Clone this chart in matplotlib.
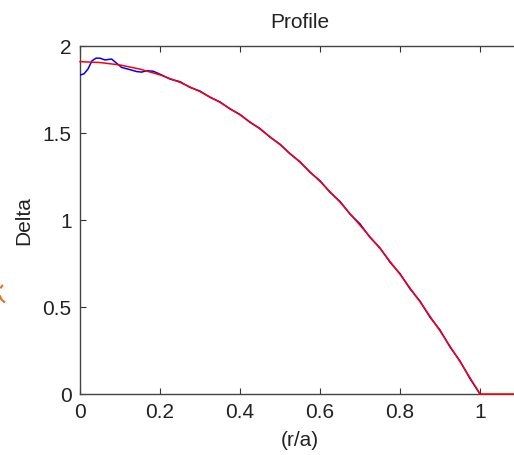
import numpy as np
import matplotlib
matplotlib.use('Agg')
import matplotlib.pyplot as plt
from matplotlib.patches import Arc
from matplotlib.ticker import FormatStrFormatter

plt.rcParams['font.family'] = ['Liberation Sans', 'DejaVu Sans']

# measured profile (blue)
r_meas = [0, 0.01, 0.02, 0.03, 0.04, 0.05, 0.0625, 0.079, 0.092, 0.104,
          0.125, 0.142, 0.154, 0.167, 0.183, 0.2, 0.225, 0.25, 0.275, 0.3,
          0.325, 0.35, 0.375, 0.4, 0.425, 0.45, 0.475, 0.5, 0.525, 0.55,
          0.575, 0.6, 0.625, 0.65, 0.675, 0.7, 0.725, 0.75, 0.775, 0.8,
          0.825, 0.85, 0.875, 0.9, 0.925, 0.95, 0.975, 1.0]
delta_meas = [1.833, 1.84, 1.868, 1.915, 1.93, 1.93, 1.92, 1.925, 1.90, 1.877,
              1.864, 1.853, 1.85, 1.858, 1.855, 1.838, 1.810, 1.795, 1.762, 1.741,
              1.705, 1.679, 1.638, 1.607, 1.561, 1.526, 1.476, 1.436, 1.380, 1.335,
              1.274, 1.226, 1.159, 1.107, 1.034, 0.978, 0.900, 0.840, 0.757, 0.692,
              0.604, 0.534, 0.441, 0.368, 0.270, 0.190, 0.088, 0.0]

# fitted profile (red)
r_fit = [0, 0.05, 0.1, 0.15, 0.2, 0.25, 0.3, 0.35, 0.4, 0.45, 0.5, 0.55,
         0.6, 0.65, 0.7, 0.75, 0.8, 0.85, 0.9, 0.95, 1.0, 1.1]
delta_fit = [1.910, 1.905, 1.891, 1.867, 1.834, 1.791, 1.738, 1.676, 1.604,
             1.523, 1.433, 1.332, 1.222, 1.103, 0.970, 0.836, 0.688, 0.530,
             0.363, 0.186, 0.0, 0.0]

fig = plt.figure(figsize=(5.14, 4.56), dpi=100)
ax = fig.add_axes([80 / 514, 61 / 456, 440 / 514, 348 / 456])

ax.plot(r_meas, delta_meas, color='blue', lw=1.1, zorder=3)
ax.plot(r_fit, delta_fit, color='red', lw=1.1, zorder=4, clip_on=False)

ax.set_xlim(0, 1.1)
ax.set_ylim(0, 2)
ax.set_xticks([0, 0.2, 0.4, 0.6, 0.8, 1.0])
ax.set_yticks([0, 0.5, 1.0, 1.5, 2.0])
ax.xaxis.set_major_formatter(FormatStrFormatter('%g'))
ax.yaxis.set_major_formatter(FormatStrFormatter('%g'))
ax.tick_params(direction='in', length=4, width=0.8, colors='#333333',
               labelcolor='#222222', labelsize=15, top=True, right=True, pad=6)
for s in ax.spines.values():
    s.set_color('#444444')
    s.set_linewidth(1.0)

ax.set_title('Profile', fontsize=15, color='#222222', pad=14)
ax.set_xlabel('(r/a)', fontsize=15, color='#222222', labelpad=6)
ax.set_ylabel('Delta', fontsize=15, color='#222222', labelpad=7)

# little orange mark at the left edge (cut off in the original)
for t1, t2 in [(125, 150), (195, 250)]:
    fig.patches.append(Arc((0.085, 1.62), 0.18, 0.2, theta1=t1, theta2=t2,
                           transform=fig.dpi_scale_trans, color='#e07020', lw=1.5))

fig.savefig('out.png', dpi=100)
